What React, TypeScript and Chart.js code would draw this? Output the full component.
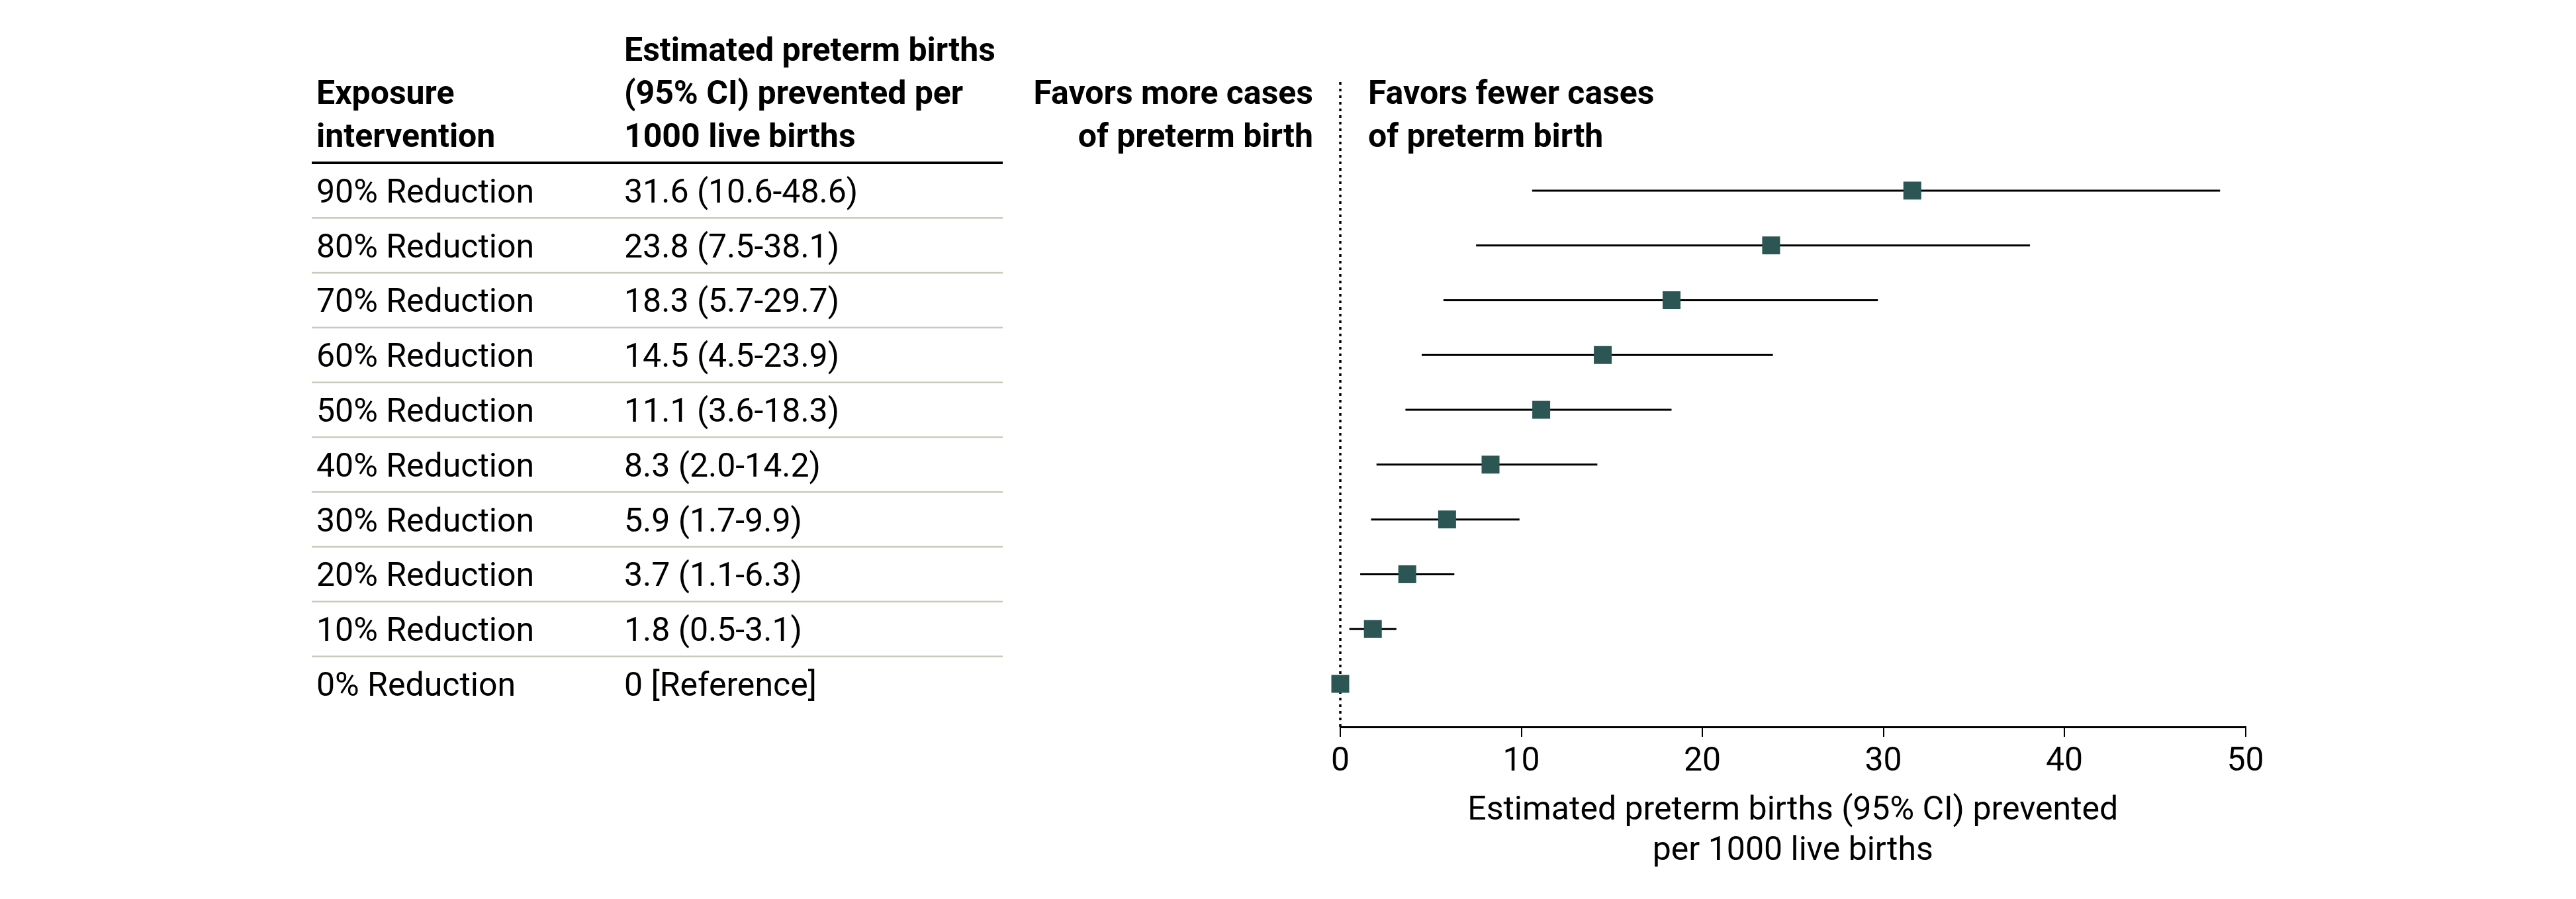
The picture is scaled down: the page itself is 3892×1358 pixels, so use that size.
import React, { useEffect, useRef } from "react";
import { Chart, registerables } from "chart.js";

Chart.register(...registerables);

// ---------- data ----------
const exposures = [
  "90% Reduction",
  "80% Reduction",
  "70% Reduction",
  "60% Reduction",
  "50% Reduction",
  "40% Reduction",
  "30% Reduction",
  "20% Reduction",
  "10% Reduction",
  "0% Reduction",
];
const estimates = [31.6, 23.8, 18.3, 14.5, 11.1, 8.3, 5.9, 3.7, 1.8, 0];
const lowerCI: (number | null)[] = [10.6, 7.5, 5.7, 4.5, 3.6, 2.0, 1.7, 1.1, 0.5, null];
const upperCI: (number | null)[] = [48.6, 38.1, 29.7, 23.9, 18.3, 14.2, 9.9, 6.3, 3.1, null];
const estimateLabels = [
  "31.6 (10.6-48.6)",
  "23.8 (7.5-38.1)",
  "18.3 (5.7-29.7)",
  "14.5 (4.5-23.9)",
  "11.1 (3.6-18.3)",
  "8.3 (2.0-14.2)",
  "5.9 (1.7-9.9)",
  "3.7 (1.1-6.3)",
  "1.8 (0.5-3.1)",
  "0 [Reference]",
];
const xTicks = [0, 10, 20, 30, 40, 50];
const xAxisTitle = ["Estimated preterm births (95% CI) prevented", "per 1000 live births"];
const col1Header = ["Exposure", "intervention"];
const col2Header = ["Estimated preterm births", "(95% CI) prevented per", "1000 live births"];
const favorsLeft = ["Favors more cases", "of preterm birth"];
const favorsRight = ["Favors fewer cases", "of preterm birth"];

// ---------- style ----------
const FAMILY = 'Roboto, "Liberation Sans Narrow", "DejaVu Sans Condensed", sans-serif';
const FS = 50;
const W = 3892;
const H = 1358;
const MARKER = "#2b5654";

const n = exposures.length;
const rowValue = (r: number) => n - 1 - r;

const tablePlugin = {
  id: "forestTable",
  afterDraw(chart: any) {
    const ctx: CanvasRenderingContext2D = chart.ctx;
    const ys = chart.scales.y;
    const py = (r: number) => ys.getPixelForValue(rowValue(r));
    const capHalf = 18;
    ctx.save();
    ctx.fillStyle = "#000";
    ctx.textBaseline = "alphabetic";

    // headers
    ctx.font = `bold ${FS}px ${FAMILY}`;
    ctx.textAlign = "left";
    const hb = [92, 157, 222];
    col1Header.forEach((t, i) => ctx.fillText(t, 478, hb[i + 1]));
    col2Header.forEach((t, i) => ctx.fillText(t, 943, hb[i]));
    ctx.textAlign = "right";
    favorsLeft.forEach((t, i) => ctx.fillText(t, 1984, hb[i + 1]));
    ctx.textAlign = "left";
    favorsRight.forEach((t, i) => ctx.fillText(t, 2067, hb[i + 1]));

    // thick rule
    ctx.fillRect(471, 244, 1515 - 471, 4);

    // separators
    ctx.fillStyle = "#c8cbbc";
    for (let r = 0; r < n - 1; r++) {
      const m = (py(r) + py(r + 1)) / 2;
      ctx.fillRect(471, m - 1.25, 1515 - 471, 2.5);
    }

    // rows
    ctx.fillStyle = "#000";
    ctx.font = `${FS}px ${FAMILY}`;
    ctx.textAlign = "left";
    for (let r = 0; r < n; r++) {
      const y = py(r) + capHalf;
      ctx.fillText(exposures[r], 478, y);
      ctx.fillText(estimateLabels[r], 943, y);
    }
    ctx.restore();
  },
};

export default function App() {
  const ref = useRef<HTMLCanvasElement | null>(null);

  useEffect(() => {
    document.body.style.margin = "0";
    const canvas = ref.current;
    if (!canvas) return;
    Chart.defaults.font.family = FAMILY;
    Chart.defaults.color = "#000";

    const ciDatasets = exposures
      .map((_, r) => r)
      .filter((r) => lowerCI[r] !== null && upperCI[r] !== null)
      .map((r) => ({
        type: "scatter" as const,
        showLine: true,
        data: [
          { x: lowerCI[r] as number, y: rowValue(r) },
          { x: upperCI[r] as number, y: rowValue(r) },
        ],
        borderColor: "#000",
        borderWidth: 3,
        pointRadius: 0,
        order: 2,
      }));

    const yMin = -0.785;
    const yMax = 11.04;

    const chart = new Chart(canvas, {
      type: "scatter",
      data: {
        datasets: [
          {
            data: estimates.map((v, r) => ({ x: v, y: rowValue(r) })),
            pointStyle: "rect",
            pointRadius: 19.1,
            pointHoverRadius: 19.1,
            backgroundColor: MARKER,
            borderColor: MARKER,
            borderWidth: 0,
            clip: false,
            order: 0,
          },
          ...ciDatasets,
          {
            showLine: true,
            data: [
              { x: 0, y: yMin },
              { x: 0, y: yMax },
            ],
            borderColor: "#000",
            borderWidth: 3.5,
            borderDash: [4, 6],
            pointRadius: 0,
            clip: false,
            order: 3,
          },
        ] as any,
      },
      options: {
        animation: false,
        responsive: false,
        devicePixelRatio: 1,
        layout: { padding: { left: 2025, right: W - 3392.5, top: 119, bottom: 0 } },
        plugins: { legend: { display: false }, tooltip: { enabled: false } },
        events: [],
        scales: {
          x: {
            type: "linear",
            min: 0,
            max: 50,
            afterBuildTicks: (s: any) => {
              s.ticks = xTicks.map((v) => ({ value: v }));
            },
            afterFit: (s: any) => {
              s.height = H - 1098;
            },
            grid: {
              drawOnChartArea: false,
              drawTicks: true,
              tickLength: 15,
              color: "#000",
              lineWidth: 2,
            },
            border: { display: true, color: "#000", width: 3 },
            ticks: {
              color: "#000",
              font: { size: FS, family: FAMILY },
              padding: 8,
              maxRotation: 0,
              autoSkip: false,
            },
            title: {
              display: true,
              text: xAxisTitle,
              color: "#000",
              font: { size: FS, family: FAMILY, lineHeight: "61px" },
              padding: { top: 0, bottom: 41 },
            },
          },
          y: {
            type: "linear",
            min: yMin,
            max: yMax,
            display: false,
          },
        },
      },
      plugins: [tablePlugin],
    } as any);

    return () => chart.destroy();
  }, []);

  return (
    <div style={{ position: "absolute", left: 0, top: 0, width: W, height: H, background: "#fff" }}>
      <canvas ref={ref} width={W} height={H} style={{ display: "block", width: W, height: H }} />
    </div>
  );
}
